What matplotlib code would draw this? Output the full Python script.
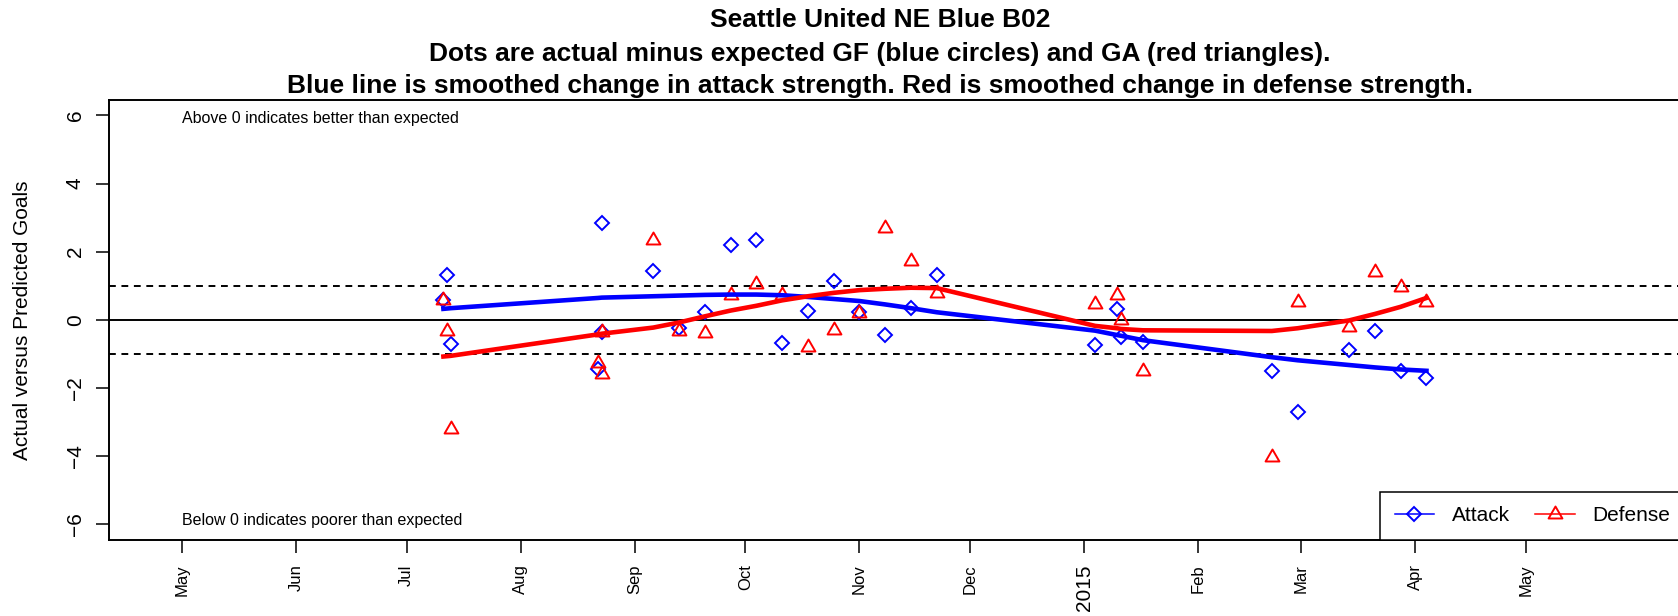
import matplotlib
matplotlib.use('Agg')
import matplotlib.pyplot as plt
import matplotlib.dates as mdates
from matplotlib.lines import Line2D
from matplotlib.path import Path
import numpy as np

plt.rcParams['font.family'] = ['Liberation Sans', 'DejaVu Sans']

# ---- data ----
game_dates = ['2014-07-11', '2014-07-12', '2014-07-13', '2014-08-22', '2014-08-23', '2014-08-23',
              '2014-09-06', '2014-09-13', '2014-09-20', '2014-09-27', '2014-10-04', '2014-10-11',
              '2014-10-18', '2014-10-25', '2014-11-01', '2014-11-08', '2014-11-15', '2014-11-22',
              '2015-01-04', '2015-01-10', '2015-01-11', '2015-01-17', '2015-02-21', '2015-02-28',
              '2015-03-14', '2015-03-21', '2015-03-28', '2015-04-04']
attack = [0.59, 1.30, -0.71, -1.45, 2.83, -0.36,
          1.43, -0.23, 0.22, 2.21, 2.34, -0.67,
          0.27, 1.13, 0.22, -0.44, 0.34, 1.30,
          -0.74, 0.32, -0.51, -0.66, -1.50, -2.70,
          -0.88, -0.34, -1.50, -1.70]
defense = [0.59, -0.34, -3.20, -1.28, -1.59, -0.36,
           2.34, -0.34, -0.39, 0.74, 1.06, 0.74,
           -0.81, -0.31, 0.20, 2.70, 1.74, 0.79,
           0.47, 0.74, -0.02, -1.50, -4.03, 0.51,
           -0.22, 1.41, 0.96, 0.51]
attack_smooth = [0.32, 0.33, 0.34, 0.64, 0.65, 0.65,
                 0.69, 0.71, 0.73, 0.74, 0.74, 0.72,
                 0.67, 0.61, 0.55, 0.45, 0.34, 0.22,
                 -0.32, -0.45, -0.47, -0.60, -1.10, -1.19,
                 -1.33, -1.40, -1.46, -1.50]
defense_smooth = [-1.08, -1.07, -1.06, -0.43, -0.41, -0.41,
                  -0.23, -0.08, 0.10, 0.27, 0.41, 0.57,
                  0.69, 0.79, 0.87, 0.91, 0.94, 0.93,
                  -0.18, -0.25, -0.27, -0.31, -0.33, -0.25,
                  -0.02, 0.17, 0.38, 0.64]

tick_dates = ['2014-05-01', '2014-06-01', '2014-07-01', '2014-08-01', '2014-09-01', '2014-10-01',
              '2014-11-01', '2014-12-01', '2015-01-01', '2015-02-01', '2015-03-01', '2015-04-01',
              '2015-05-01']
tick_labels = ['May', 'Jun', 'Jul', 'Aug', 'Sep', 'Oct', 'Nov', 'Dec', '2015', 'Feb', 'Mar', 'Apr', 'May']

title_lines = ['Seattle United NE Blue B02',
               'Dots are actual minus expected GF (blue circles) and GA (red triangles).',
               'Blue line is smoothed change in attack strength. Red is smoothed change in defense strength.']

# ---- figure ----
W, H = 1678, 616
fig = plt.figure(figsize=(W / 100, H / 100), dpi=100)
ax = fig.add_axes([108.7 / W, (H - 540) / H, (1700 - 108.7) / W, (540 - 99.5) / H])

x = mdates.date2num(np.array(game_dates, dtype='datetime64[D]'))
xt = mdates.date2num(np.array(tick_dates, dtype='datetime64[D]'))
may1 = xt[0]

# R style open triangle (pch=2)
tri = Path([(0, 1.555), (1.347, -0.778), (-1.347, -0.778), (0, 1.555)],
           [Path.MOVETO, Path.LINETO, Path.LINETO, Path.CLOSEPOLY])

ax.axhline(0, color='black', lw=1.4)
ax.axhline(1, color='black', lw=1.4, ls=(0, (3.5, 2.9)))
ax.axhline(-1, color='black', lw=1.4, ls=(0, (3.5, 2.9)))

ax.plot(x, attack, ls='none', marker='D', ms=7.4, mfc='none', mec='blue', mew=1.4)
ax.plot(x, defense, ls='none', marker=tri, ms=11.5, mfc='none', mec='red', mew=1.4)
ax.plot(x, attack_smooth, color='blue', lw=3.3)
ax.plot(x, defense_smooth, color='red', lw=3.3)

ax.text(may1, 5.9, 'Above 0 indicates better than expected', ha='left', va='center', fontsize=11.5)
ax.text(may1, -5.9, 'Below 0 indicates poorer than expected', ha='left', va='center', fontsize=11.5)

ax.set_xlim(may1 - 19.91, may1 + 412.3)
ax.set_ylim(-6.47, 6.47)

ax.set_xticks(xt)
ax.set_xticklabels(tick_labels, rotation=90, fontsize=12)
for lab in ax.get_xticklabels():
    if lab.get_text() == '2015':
        lab.set_fontsize(15)
ax.tick_params(axis='x', length=9.4, width=1.1, pad=8)

ax.set_yticks([-6, -4, -2, 0, 2, 4, 6])
ax.tick_params(axis='y', length=9.1, width=1.1, pad=8, labelsize=15, labelrotation=90)
for lab in ax.get_yticklabels():
    lab.set_va('center')

ax.set_ylabel('Actual versus Predicted Goals', fontsize=15, va='center')
ax.yaxis.set_label_coords((22 - 108.7) / (1700 - 108.7), 0.5)

for s in ax.spines.values():
    s.set_linewidth(1.4)

handles = [Line2D([], [], color='blue', lw=1.1, marker='D', ms=7.4, mfc='none', mec='blue', mew=1.4),
           Line2D([], [], color='red', lw=1.1, marker=tri, ms=11.5, mfc='none', mec='red', mew=1.4)]
leg = ax.legend(handles, ['Attack', 'Defense'], ncol=2, loc='lower left',
                bbox_to_anchor=((1380 - 108.7) / (1700 - 108.7), 0), borderaxespad=0,
                fontsize=15, borderpad=0.7, handlelength=1.9, handletextpad=0.85,
                columnspacing=1.2, fancybox=False, framealpha=1, numpoints=1)
leg.get_frame().set_edgecolor('black')
leg.get_frame().set_linewidth(1.1)

title_y = [20.3, 53.5, 85.6]
for line, yy in zip(title_lines, title_y):
    fig.text(880 / W, 1 - yy / H, line, ha='center', va='center', fontsize=19, fontweight='bold')

fig.savefig('out.png', dpi=100)
